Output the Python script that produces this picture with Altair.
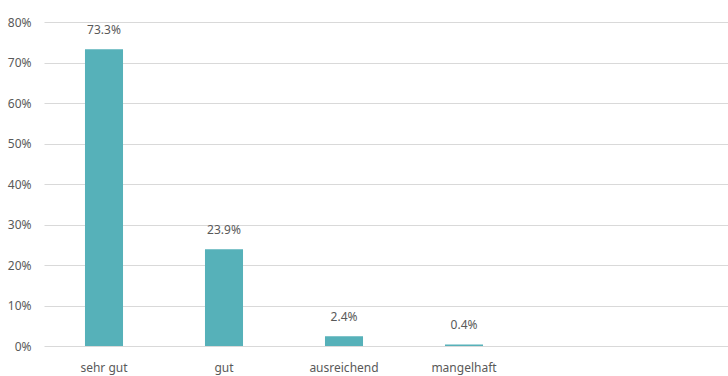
import altair as alt
import pandas as pd

categories = ["sehr gut", "gut", "ausreichend", "mangelhaft"]
values = [0.733, 0.239, 0.024, 0.004]
labels = ["73.3%", "23.9%", "2.4%", "0.4%"]

df = pd.DataFrame({"cat": categories, "val": values, "lab": labels})

FONT = "Noto Sans"
GRAY = "#595959"

xscale = alt.Scale(paddingInner=0, paddingOuter=0.85, align=0)
x = alt.X("cat:N", sort=categories, title=None, scale=xscale,
          axis=alt.Axis(labelAngle=0, domain=False, ticks=False, labelPadding=16,
                        labelFont=FONT, labelFontSize=12, labelColor=GRAY))
y = alt.Y("val:Q", title=None,
          scale=alt.Scale(domain=[0, 0.8], nice=False),
          axis=alt.Axis(format=".0%", values=[0, 0.1, 0.2, 0.3, 0.4, 0.5, 0.6, 0.7, 0.8],
                        domain=False, ticks=False, labelPadding=13,
                        labelFont=FONT, labelFontSize=12, labelColor=GRAY,
                        gridColor="#d9d9d9", gridWidth=1))

bars = alt.Chart(df).mark_bar(color="#56B1B9", width={"band": 0.317}).encode(x=x, y=y)
text = alt.Chart(df).mark_text(dy=-15, baseline="alphabetic", font=FONT, fontSize=12,
                               color=GRAY).encode(x=alt.X("cat:N", sort=categories, scale=xscale),
                                                  y="val:Q", text="lab:N")

chart = (bars + text).properties(
    width=684, height=324,
    padding={"left": 44, "top": 22, "right": 0, "bottom": 30},
    autosize=alt.AutoSizeParams(type="none"),
    background="white",
).configure_view(stroke=None)

chart.save("out.html", embed_options={"renderer": "svg", "actions": False})
